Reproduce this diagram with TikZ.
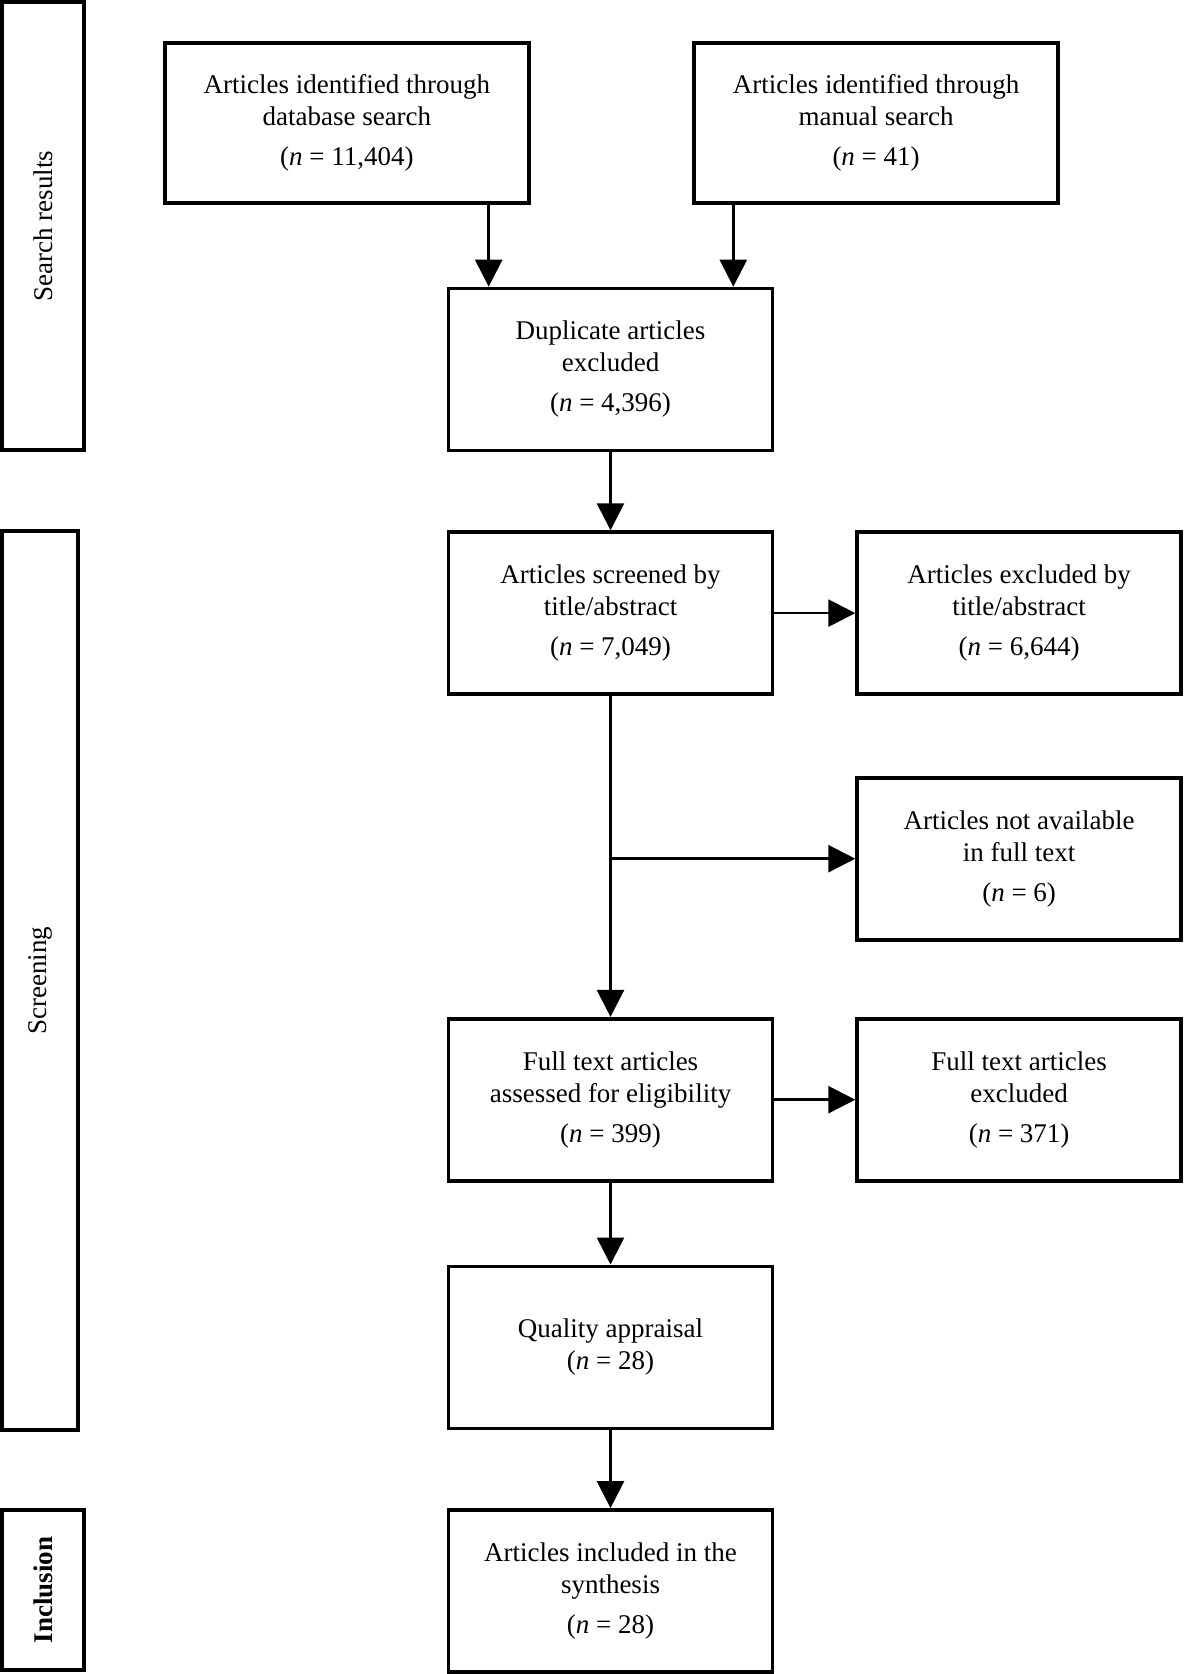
\documentclass[tikz,border=0pt]{standalone}
\usepackage{fontspec}
\setmainfont{Liberation Serif}
\usepackage{tikz}
\usetikzlibrary{positioning}
\usetikzlibrary{arrows.meta}
\usetikzlibrary{calc}

\begin{document}
\begin{tikzpicture}[
                stagebox/.style={rectangle, draw, line width=1.8pt, align=center, minimum width=162pt, minimum height=81pt, inner sep=2pt, font=\fontsize{13.5}{16}\selectfont},
                sourcebox/.style={stagebox, minimum width=182pt, minimum height=80pt},
                phasebar/.style={rectangle, draw, line width=1.8pt, rotate=90, inner sep=0pt, font=\fontsize{13.5}{16}\selectfont},
                line width=1.3pt,
                >={Triangle[length=13.5pt,width=13.5pt]},
            ]
            \useasboundingbox (0,0) rectangle (592pt,-837pt);

            % Phase bars
            \node[phasebar, minimum width=224pt, minimum height=41pt]    (bar_search)    at (21.5pt,-113pt)     {Search results};
            \node[phasebar, minimum width=449.7pt, minimum height=38.2pt] (bar_screen)    at (20pt,-490.25pt)    {Screening};
            \node[phasebar, minimum width=80.2pt, minimum height=41.2pt]  (bar_incl)      at (21.5pt,-795pt)     {\textbf{Inclusion}};

            % Nodes
            \node[stagebox]     (dup)       at (305.25pt,-184.75pt)     {Duplicate articles\\excluded\\[4pt](\textit{n} = 4,396)};
            \node[sourcebox]    (db)        [above left=41pt and -42pt of dup]      {Articles identified through\\database search\\[4pt](\textit{n} = 11,404)};
            \node[sourcebox]    (manual)    [above right=41pt and -41pt of dup]     {Articles identified through\\manual search\\[4pt](\textit{n} = 41)};

            \node[stagebox]     (screened)  [below=39pt of dup]         {Articles screened by\\title/abstract\\[4pt](\textit{n} = 7,049)};
            \node[stagebox]     (excl_title) [right=40.5pt of screened]  {Articles excluded by\\title/abstract\\[4pt](\textit{n} = 6,644)};
            \node[stagebox]     (not_avail) [below=40pt of excl_title]  {Articles not available\\in full text\\[4pt](\textit{n} = 6)};

            \node[stagebox]     (fulltext)  [below=160.5pt of screened] {Full text articles\\assessed for eligibility\\[4pt](\textit{n} = 399)};
            \node[stagebox]     (excl_full) [right=40.5pt of fulltext]  {Full text articles\\excluded\\[4pt](\textit{n} = 371)};

            \node[stagebox]     (quality)   [below=41pt of fulltext]    {Quality appraisal\\(\textit{n} = 28)};
            \node[stagebox]     (included)  [below=39pt of quality]     {Articles included in the\\synthesis\\[4pt](\textit{n} = 28)};

            % Lines
            \coordinate (db_mid) at ($(db.south east)!0.5!(dup.north west)$);
            \coordinate (manual_mid) at ($(manual.south west)!0.5!(dup.north east)$);
            \draw[->] (db_mid |- db.south) -- (db_mid |- dup.north);
            \draw[->] (manual_mid |- manual.south) -- (manual_mid |- dup.north);

            \draw[->] (dup.south) -- (screened.north);
            \draw[->] (screened.east) -- (excl_title.west);
            \draw[->] (screened.south) -- (fulltext.north);
            \draw[->] (screened.south |- not_avail.west) -- (not_avail.west);

            \draw[->] (fulltext.east) -- (excl_full.west);
            \draw[->] (fulltext.south) -- (quality.north);
            \draw[->] (quality.south) -- (included.north);
        \end{tikzpicture}
\end{document}
